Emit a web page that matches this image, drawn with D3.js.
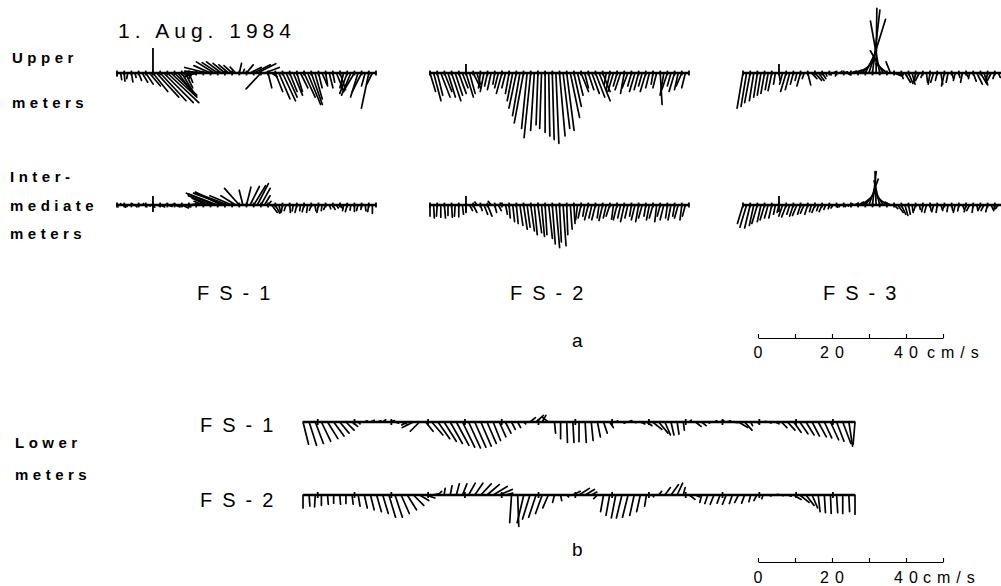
<!doctype html>
<html>
<head>
<meta charset="utf-8">
<style>
    body { margin: 0; background: #fff; }
    text { font-family: "Liberation Sans", Arial, Helvetica, sans-serif; fill: #000; }
    .stick { stroke: #000; stroke-width: 1.7; stroke-linecap: round; }
    .base { stroke: #000; stroke-width: 2.3; }
    .tick { stroke: #000; stroke-width: 1.8; }
    .lab { font-weight: bold; font-size: 15px; letter-spacing: 4.5px; }
    .stn { font-size: 20px; letter-spacing: 10px; }
    .scale path, .scale line { stroke: #000; stroke-width: 1.1; }
    .scale text { display: none; }
</style>
<script src="https://d3js.org/d3.v7.min.js"></script>
</head>
<body>
<svg width="1001" height="586"></svg>
<script>

    // current vectors [east, north] in cm/s, upper & intermediate: 2 per day, lower: 6 per day
    var upperFS1 = [[0,-0.8],[0.3,-1.8],[0.2,-2.2],[-0.3,-1.5],[0.4,-2.4],[0.3,-1.2],[0.8,-2.0],
        [1.5,-2.5],[2,-3],[3,-3.5],
        [4,-5],[6,-6.5],[7,-7.5],[8,-8],[8.5,-8],[7,-6.5],[6,-6],
        [4,-5.5],[3,-5],[2,-4],[1,-2.5],
        [-1,-1.5],[-3,-1],[-4,-0.5],[-5,0.5],[-6,1.5],
        [-4.5,2.0],[-4.8,3.0],[-4.2,2.8],[-4,3],[-3.2,2.6],[-2.6,2.2],[-2.2,2.0],[-1.5,1.6],[0.6,2.6],[0.4,1.0],[1.8,2.2],
        [3,1.5],[4.5,2.2],[5,2.5],[-4,-4.3],[4,1.5],[1,-4],[1.5,-1],
        [2,-5],[3,-7],[3.5,-7.5],[3,-6.5],[2,-5],[2.5,-6],[1.5,-5],[2,-4],[3,-6.5],[3.5,-8.5],[3,-8.5],[2,-7],[1,-4],[1.5,-3.5],
        [0.5,-3],[1,-4],[0.5,-2.5],[2,-5],[1.5,-4.5],[-1,-4],[-2,-5.5],[-2.5,-6],[-3,-5],[-2,-6.5],[-2.5,-5],[-1,-3.5],[-2,-9.5],[-1.5,-3]];

    var upperFS2 = [[1.5,-5],[2,-7.5],[1.5,-6],[2.5,-6.5],[2,-5],[2,-6.5],[2.5,-7.5],[2,-6],[2,-5.5],[1.5,-4],[2,-6.5],[1.5,-5.5],[2,-4],[1,-3],
        [-0.5,-4],[-1,-5],[-0.8,-3.5],[-1,-4.5],[-0.5,-3],[-1,-4],[-1.5,-5.5],[-1,-4],
        [-1,-5.5],[-1.5,-7.5],[-2,-9.5],[-2,-11.5],[-2.5,-13.5],[-1.5,-15],[-1.8,-17.5],[-1,-15.5],[-0.5,-14],[-0.5,-15],[0,-16],
        [0.3,-17],[0.5,-18],[0.8,-19],[1.5,-17],[1.8,-15],[2,-15.5],[2.5,-12],[2,-9],
        [1.5,-6],[2,-5],[1,-4],[1.5,-4.5],[2,-5.5],[2.5,-6.5],[3,-7.5],[2,-5],
        [-0.5,-3],[-1,-4.5],[-1.5,-5],[-1,-3.5],[-1.5,-4.5],[-1,-5.5],[-1.5,-4],[-1,-3.5],[-1.5,-5],[-1.2,-4.5],[-1,-3.5],
        [-1.5,-5],[-1,-4],[-0.5,-3],[-1,-4],
        [0.5,-8.5],[-1,-6],
        [-1.5,-4.5],[-1,-3.5],[-1.5,-5],[-1,-4.5],[-1.5,-3.5],[-1,-4]];

    var upperFS3 = [[-1.6,-9.5],[-1.5,-9],[-1.5,-8],[-1.2,-7.5],[-1,-6.5],[-1,-6],[-1,-5.5],[-0.8,-4.5],[-1,-4.8],[-0.5,-3],
        [0.3,-2],
        [-0.8,-3],[-1.5,-5],[-1.2,-4.5],[-0.8,-3],[-0.5,-2],[-1,-3.5],[-0.5,-1.5],
        [0.8,-3.2],
        [1.5,-1.5],[1.8,-2],[1.5,-2],[1,-1.5],[0.3,-0.8],
        [0.5,-0.5],[0.8,0.3],[-0.3,-0.8],[0.5,0.5],[1,0.3],[0.8,-0.5],[1.5,0.5],[2,0.8],
        [2.5,1.5],[3.5,3.5],[3,6],[4.5,14.5],[2,17],[0.2,17.5],[-2.5,14],[-3.5,6],[-3,2.5],[-1.2,3],
        [2,-0.8],[1.5,-0.5],
        [0.5,-1.5],[1.5,-2.5],[1.2,-2.8],[0.8,-3],[-0.5,-2.5],[-1,-2],[-0.5,-1.2],[0.3,-2.5],[-0.5,-3],[-0.8,-2.5],
        [-0.5,-2],[0.5,-3],[-0.8,-3.5],[-0.5,-2.5],[0.5,-1.5],[-0.5,-2],[0.3,-1.2],[-0.5,-2.5],[0.5,-1],[-0.3,-1.5],
        [0.8,-2.2],[1.5,-3],[1.8,-3],[1,-3.2],[-0.5,-2.5],[-1,-2],[-0.5,-1.5],[0.5,-1.2]];

    var midFS1 = [[0.3,-0.5],[0,0.4],[0.4,-0.6],[-0.2,-0.4],[0.3,0.3],[0.5,-0.5],[0,-0.3],[0.4,0.4],[0.3,-0.5],[0.2,-0.3],[0.5,-0.6],
        [1,-0.3],[1.2,-0.5],[0.8,0.2],[1.3,-0.4],[1,0.3],[1.5,-0.5],[1.2,-0.3],[1.8,-0.8],[1.5,-0.5],[2,0.3],[1.5,0.2],[1.8,0.5],
        [-1,0.5],[-2.5,1],[-4,1.8],
        [-6,2.5],[-7.5,3.2],[-8,3],[-7,3.5],[-8.5,3.2],[-9,3.3],[-6,2.5],[-4,2.5],
        [-4,4.5],[-1,4],
        [1.2,4.8],[2.5,5],[3.2,5.2],[3,5.8],[2.5,4.5],[1.5,2.5],[0.8,1],
        [1.5,-2],[1.2,-2.2],[0.5,-2],[-0.3,-1.8],[-0.5,-1.5],[0.2,-2],[-0.3,-1.6],[-0.5,-2],[-0.2,-1.5],[-0.5,-1.8],
        [-0.3,-2],[-0.5,-1.4],[0.3,-1.6],[-0.4,-2],[-0.2,-1.5],[-0.5,-1.2],[0.4,-1],[0.6,-1.2],[0.5,-0.8],[0.8,-1],
        [-0.3,-1.5],[-0.5,-1.8],[-0.2,-1.4],[0,-1.7],[-0.4,-1.5],[-0.2,-1.2],[0.2,-1.6],[-0.3,-1.8],[0,-2.2]];

    var midFS2 = [[0,-3],[0.2,-3.5],[-0.2,-3],[0,-3.3],[0.3,-3.5],[0,-2.8],[0.2,-3.3],[-0.2,-3],[0,-3.2],[0.3,-2.5],[0,-2],
        [0.8,-1.5],[1,-2],[-0.5,0.8],[0.5,-1.5],[1,-2.5],[1.2,-3],[-0.8,1],[0.5,-2],[0.8,-1.5],[-0.5,0.5],[0.5,-2.5],
        [0.3,-3.5],[0.5,-4.5],[0.5,-5],[0.8,-5.5],[1,-6.5],[0.8,-6],[1,-7],[0.8,-8],[1,-7.5],[0.8,-8.5],[0.5,-8],
        [1,-9],[0.8,-10.5],[1,-11.5],[0.5,-10],[0.8,-11],[0.3,-8],[0.5,-6.5],[0.3,-5],
        [-0.5,-4],[-0.8,-3.5],[-0.5,-3],[-1,-4],[-0.8,-3.5],[-1,-4],[-0.5,-3.5],[-1,-4.2],[-0.8,-3.5],[-1,-3],
        [-0.5,-3.8],[-1,-4],[-0.8,-3.5],[-1,-4.5],[-0.8,-3.5],[-0.5,-3],[-1,-4],[-0.8,-4.5],[-1,-3.5],[-0.5,-3],
        [-0.8,-4],[-1,-3.5],[-0.5,-4.5],[-0.8,-3],[-1,-4],[-0.5,-3.5],[-0.8,-4],[-0.5,-3],[-1,-3.5],[-0.5,-4],[-0.8,-3]];

    var midFS3 = [[-1.5,-5],[-1.8,-6],[-1.5,-6.2],[-1.2,-5.5],[-1.5,-5],[-1,-4.5],[-1.2,-4],[-1,-3.5],[-0.8,-3.5],[-0.5,-2.5],[-0.5,-2],
        [-1,-3],[-1.2,-3.2],[-0.8,-2.5],[-1,-3],[-1.2,-2.8],[-0.8,-2.5],[-1,-2.2],[-0.8,-2.5],[-0.5,-1.8],[-0.8,-2],
        [-0.5,-1.5],[-0.8,-1.8],[-0.5,-1.2],[-0.3,-1],[-0.5,-0.8],[0.3,-0.6],[-0.3,-0.5],[0.5,-0.4],[0.3,-0.3],
        [0.5,0.3],[1,0.5],
        [1.5,0.8],[2.5,2],[3,4],[2.5,7],[1,9],[-0.3,9],[-1.5,6.5],[-2.5,4],[-2.5,2],[-1.5,0.8],
        [1,-1],[1.5,-2],[1.2,-2.5],[0.8,-2.8],[0.5,-2.5],[0.3,-2],[-0.5,-1.5],[0.3,-1.2],[-0.3,-1.8],[-0.5,-2],
        [0.3,-1.5],[-0.5,-1.8],[-0.3,-2],[0.5,-1.5],[-0.5,-1.2],[-0.3,-1.8],[0.3,-1.5],[-0.5,-2],[-0.3,-1.6],[0.5,-1.2],
        [-0.5,-1.8],[-0.8,-1.5],[-0.3,-2],[0.3,-1.5],[-0.5,-1.2],[-0.8,-1.5],[-0.5,-1.8],[0.5,-1.2],[-0.3,-1.5],[-0.8,-1]];

    var lowerFS1 = [[1.5,-6],[2,-6.3],[2.2,-5.8],[2.5,-5.2],[2.8,-4.5],[2.8,-3.8],[2.5,-3],[2.2,-2.2],[1.5,-1.2],
        [0.5,-0.5],[0.8,0.3],[1,0.5],[1.2,0.3],[0.8,0.6],[1.5,0.4],[1,-0.3],[1.5,-0.5],[-1.5,-0.8],
        [-3,-1.5],[-2.5,-2.5],
        [2,-2.5],[3,-3.5],[3.2,-4.5],[3.3,-5.2],[3.3,-5.8],[3.4,-6.3],[3.3,-6.8],[3.2,-7],[3,-6.8],[2.8,-6.5],[2.5,-5.8],[2,-5],[1.8,-4],[1.5,-3],
        [1,-2],[0.8,-1.5],[0.5,-0.5],
        [1.5,1.2],[2,1.8],[1,1.8],[-1.5,1.2],
        [0.3,-3],[0,-4.5],[0.2,-5.5],[0.3,-5.5],[0,-5.3],[0.3,-5.5],[0.5,-5],[0.8,-4],[1,-3],[1,-1.5],
        [0.5,0.3],[0.8,-0.3],[1,0.4],[0.5,-0.2],[1.2,-0.5],[1.5,-1],
        [2.5,-2],[2.5,-3],[1.5,-3.5],[0.8,-3.5],[0.5,-3.3],[0.3,-2.2],
        [0.5,0.5],[1.5,-1.2],[1.2,-1],[0.5,-0.3],
        [0.8,0.3],[1,0.4],[1.2,0.3],[1.5,-0.2],
        [2.5,-1.5],[2,-2.2],[0.5,-1],
        [0.5,-0.3],[0.8,0.2],[0.5,-0.3],[1,-0.5],
        [1.5,-1.5],[2,-2.2],[2,-2.8],[2.2,-3.2],[2.2,-3.5],[2,-3.8],[2.2,-4],[2,-4.3],[2.2,-4.8],[2,-5.2],[2.2,-5.8],[1,-6.5],[-0.5,-6]];

    var lowerFS2 = [[0,-3.5],[0.2,-3],[-0.2,-3.2],[0,-2.8],[0.2,-2.5],[0,-2.2],[0.2,-2.5],[0,-2.3],[0.3,-2.5],
        [0.5,-3],[0.8,-3.5],[1,-4],[1.3,-4.5],[1.5,-5],[1.8,-6],[2,-6],[2.2,-5],[2.5,-4],[2.8,-2.8],[2.5,-1.5],
        [2.5,-0.8],[2,0.3],[1,1],
        [0.3,1.8],[0.5,2.5],[0.8,3],[1.2,3],[1.8,3.2],[2.2,3.2],[2.8,3],[3.3,2.8],[3.8,2.3],[3.5,1.5],[2,0.5],
        [-0.5,-7.5],[0.3,-8.5],
        [-1.8,-7.5],[-2,-6.5],[-2,-6],[-1.8,-5],[-1.5,-3.5],
        [-0.5,-2],[0.3,-1.5],[0.5,-0.5],
        [2,1],[2.8,1.8],[2.5,1.5],[1.5,0.8],[-1,-1],
        [-0.8,-4.5],[-1,-5.5],[-1.2,-6.2],[-1.5,-6.2],[-1.5,-6],[-1.2,-5.5],[-1,-4.5],[-0.5,-3],
        [0.3,-0.5],
        [0.8,1],[1.5,2],[2,2.8],[1.5,3.2],[0.5,2],
        [1.5,-1.2],[1,-0.5],
        [-0.5,-2],[-0.8,-2.3],[-1,-2.5],[-0.8,-2.2],[-1,-2.5],[-0.8,-2.3],[-1,-2],[-0.8,-2.2],[-0.5,-1.8],[-0.8,-1.5],[-0.3,-1],
        [0.5,-0.3],[0.8,0.2],[0.5,-0.2],[1,-0.3],
        [2,-1.2],[2.5,-2],[2.2,-2.8],[1.5,-3.5],
        [0.5,-4.5],[0.3,-4.8],[0.2,-5],[0.3,-4.8],[0,-5],[0.2,-4.5],[0,-5.2]];

    var stations = ["FS-1", "FS-2", "FS-3"];
    var upperLabels = ["Upper", "meters"];
    var midLabels = ["Inter-", "mediate", "meters"];
    var lowerLabels = ["Lower", "meters"];
    var speedTicks = [0, 10, 20, 30, 40, 50];
    var speedLabels = [0, 20, 40];
    var speedUnit = "cm/s";
    var dateLabel = "1. Aug. 1984";

    var svg = d3.select("svg");

    // vector length scale: 50 cm/s over 185 px (scale bar)
    var vec = d3.scaleLinear().domain([0, 50]).range([0, 185]);

    function drawRecord(data, x, y0, perDay, tickDays, tickLen) {
        var g = svg.append("g");
        g.append("line")
         .attr("class", "base")
         .attr("x1", x.range()[0]).attr("x2", x.range()[1])
         .attr("y1", y0).attr("y2", y0);
        g.selectAll(".tick")
         .data(tickDays)
         .enter().append("line")
         .attr("class", "tick")
         .attr("x1", function(d) { return x(d); })
         .attr("x2", function(d) { return x(d); })
         .attr("y1", y0 - tickLen)
         .attr("y2", y0 + tickLen);
        g.selectAll(".stick")
         .data(data)
         .enter().append("line")
         .attr("class", "stick")
         .attr("x1", function(d, i) { return x(i / perDay); })
         .attr("y1", y0)
         .attr("x2", function(d, i) { return x(i / perDay) + vec(d[0]); })
         .attr("y2", function(d) { return y0 - vec(d[1]); });
        return g;
    }

    // panel a
    var upperStart = [117, 430, 743];
    var upperData = [upperFS1, upperFS2, upperFS3];
    var midData = [midFS1, midFS2, midFS3];
    var upperDays = d3.range(0, 37);
    var markerDay = 5;

    upperStart.forEach(function(x0, k) {
        var x = d3.scaleLinear().domain([0, 36]).range([x0, x0 + 259]);
        var gu = drawRecord(upperData[k], x, 73, 2, upperDays, 2.4);
        gu.append("line").attr("class", "tick")
          .attr("x1", x(markerDay)).attr("x2", x(markerDay))
          .attr("y1", k === 0 ? 48 : 64).attr("y2", 75);
        var gm = drawRecord(midData[k], x, 205, 2, upperDays, 2.4);
        gm.append("line").attr("class", "tick")
          .attr("x1", x(markerDay)).attr("x2", x(markerDay))
          .attr("y1", 196).attr("y2", 212);
        svg.append("text")
           .attr("class", "stn")
           .attr("x", x0 + 80)
           .attr("y", 300)
           .text(stations[k]);
    });

    svg.append("text")
       .attr("x", 118).attr("y", 38)
       .attr("font-size", "21px")
       .attr("letter-spacing", "5px")
       .text(dateLabel);

    svg.selectAll(".ulab").data(upperLabels).enter().append("text")
       .attr("class", "lab").attr("x", 12)
       .attr("y", function(d, i) { return 63 + i * 45; })
       .text(function(d) { return d; });
    svg.selectAll(".mlab").data(midLabels).enter().append("text")
       .attr("class", "lab").attr("x", 10)
       .attr("y", function(d, i) { return 182 + i * 28.5; })
       .text(function(d) { return d; });
    svg.selectAll(".llab").data(lowerLabels).enter().append("text")
       .attr("class", "lab").attr("x", 15)
       .attr("y", function(d, i) { return 448 + i * 32; })
       .text(function(d) { return d; });

    svg.append("text").attr("x", 572).attr("y", 347).attr("font-size", "19px").text("a");
    svg.append("text").attr("x", 572).attr("y", 556).attr("font-size", "19px").text("b");

    // panel b
    var lowerX = d3.scaleLinear().domain([0, 15]).range([303, 855]);
    var lowerDays = d3.range(0, 15).map(function(d) { return d + 0.4; });
    drawRecord(lowerFS1, lowerX, 422, 6, lowerDays, 3);
    drawRecord(lowerFS2, lowerX, 495, 6, lowerDays, 3);
    svg.append("text").attr("class", "stn").attr("x", 200).attr("y", 432).text(stations[0]);
    svg.append("text").attr("class", "stn").attr("x", 200).attr("y", 507).text(stations[1]);

    // speed scale bars
    [[338, 358, 21], [562, 583, 17]].forEach(function(p) {
        var sx = d3.scaleLinear().domain([0, 50]).range([758, 758 + vec(50)]);
        svg.append("g")
           .attr("class", "scale")
           .attr("transform", "translate(0," + p[0] + ")")
           .call(d3.axisBottom(sx).tickValues(speedTicks).tickSize(-4).tickSizeOuter(0));
        svg.selectAll(null).data(speedLabels).enter().append("text")
           .attr("x", function(d) { return sx(d) + 3; })
           .attr("y", p[1])
           .attr("text-anchor", "middle")
           .attr("font-size", "16px")
           .attr("letter-spacing", "6px")
           .text(function(d) { return d; });
        svg.append("text")
           .attr("x", sx(40) + p[2])
           .attr("y", p[1])
           .attr("font-size", "16px")
           .attr("letter-spacing", "6px")
           .text(speedUnit);
    });

</script>
</body>
</html>
